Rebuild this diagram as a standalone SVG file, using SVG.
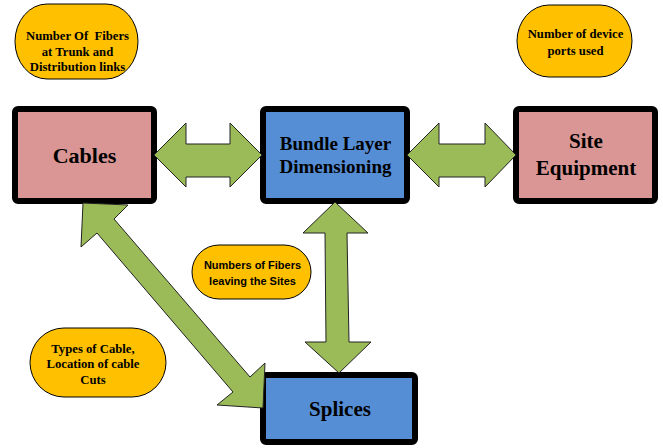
<svg xmlns="http://www.w3.org/2000/svg" width="663" height="448" viewBox="0 0 663 448">
<style>
.box{stroke:#000;stroke-width:6;}
.pink{fill:#D99694;}
.blue{fill:#558ED5;}
.note{fill:#FFC000;stroke:#000;stroke-width:1;}
.arr{fill:#9BBB59;stroke:#222;stroke-width:1;stroke-linejoin:miter;}
.t{font-family:"Liberation Serif","Times New Roman",serif;font-weight:bold;fill:#000;text-anchor:middle;}
.s{font-family:"Liberation Sans",Arial,sans-serif;font-weight:bold;fill:#000;text-anchor:middle;}
</style>
<rect width="663" height="448" fill="#fff"/>
<g id="cables">
<rect class="box pink" x="15" y="109" width="139" height="92" rx="3"/>
<text class="t" x="84.5" y="163" font-size="22">Cables</text>
</g>
<g id="bundle">
<rect class="box blue" x="263" y="109" width="144" height="92" rx="3"/>
<text class="t" x="335.5" y="150" font-size="19">Bundle Layer</text>
<text class="t" x="335.5" y="173" font-size="19">Dimensioning</text>
</g>
<g id="site">
<rect class="box pink" x="516" y="109" width="139" height="92" rx="3"/>
<text class="t" x="586" y="148" font-size="21">Site</text>
<text class="t" x="586" y="175" font-size="21">Equipment</text>
</g>
<g id="splices">
<rect class="box blue" x="263" y="375" width="152" height="67" rx="3"/>
<text class="t" x="340" y="416" font-size="21">Splices</text>
</g>
<g id="connectors">
<polygon class="arr" points="154,155 186,123 186,144 230,144 230,123 262,155 230,187 230,177 186,177 186,187"/>
<polygon class="arr" points="407,155 439,123 439,144 485,144 485,123 516,155 485,187 485,177 439,177 439,187"/>
<polygon class="arr" points="335,202 368,233 347,233 349,342 371,342 339,373 305,342 326,342 325,233 303,233"/>
<polygon class="arr" points="83,203 128,205 114,219 250,377 265,363 263,408 217,405 233,392 97,233 81,247"/>
</g>
<g id="note-fibers-trunk">
<rect class="note" x="15" y="4" width="123" height="75" rx="32" ry="37.5"/>
<text class="t" x="77.5" y="39.5" font-size="12.7">Number Of&#160; Fibers</text>
<text class="t" x="77.5" y="55.5" font-size="12.7">at Trunk and</text>
<text class="t" x="77.5" y="71" font-size="12.7">Distribution links</text>
</g>
<g id="note-device-ports">
<rect class="note" x="517" y="5" width="115" height="72" rx="32" ry="36"/>
<text class="t" x="575.5" y="37.5" font-size="12.7">Number of device</text>
<text class="t" x="575.5" y="54.5" font-size="12.7">ports used</text>
</g>
<g id="note-fibers-leaving">
<rect class="note" x="192" y="245" width="119" height="54" rx="27" ry="27"/>
<text class="s" x="252.5" y="269" font-size="11">Numbers of Fibers</text>
<text class="s" x="252.5" y="285" font-size="11">leaving the Sites</text>
</g>
<g id="note-cable-types">
<rect class="note" x="30" y="328" width="136" height="69" rx="34" ry="34.5"/>
<text class="t" x="93" y="352.5" font-size="12.7">Types of Cable,</text>
<text class="t" x="93" y="367.5" font-size="12.7">Location of cable</text>
<text class="t" x="93" y="383.5" font-size="12.7">Cuts</text>
</g>
</svg>
